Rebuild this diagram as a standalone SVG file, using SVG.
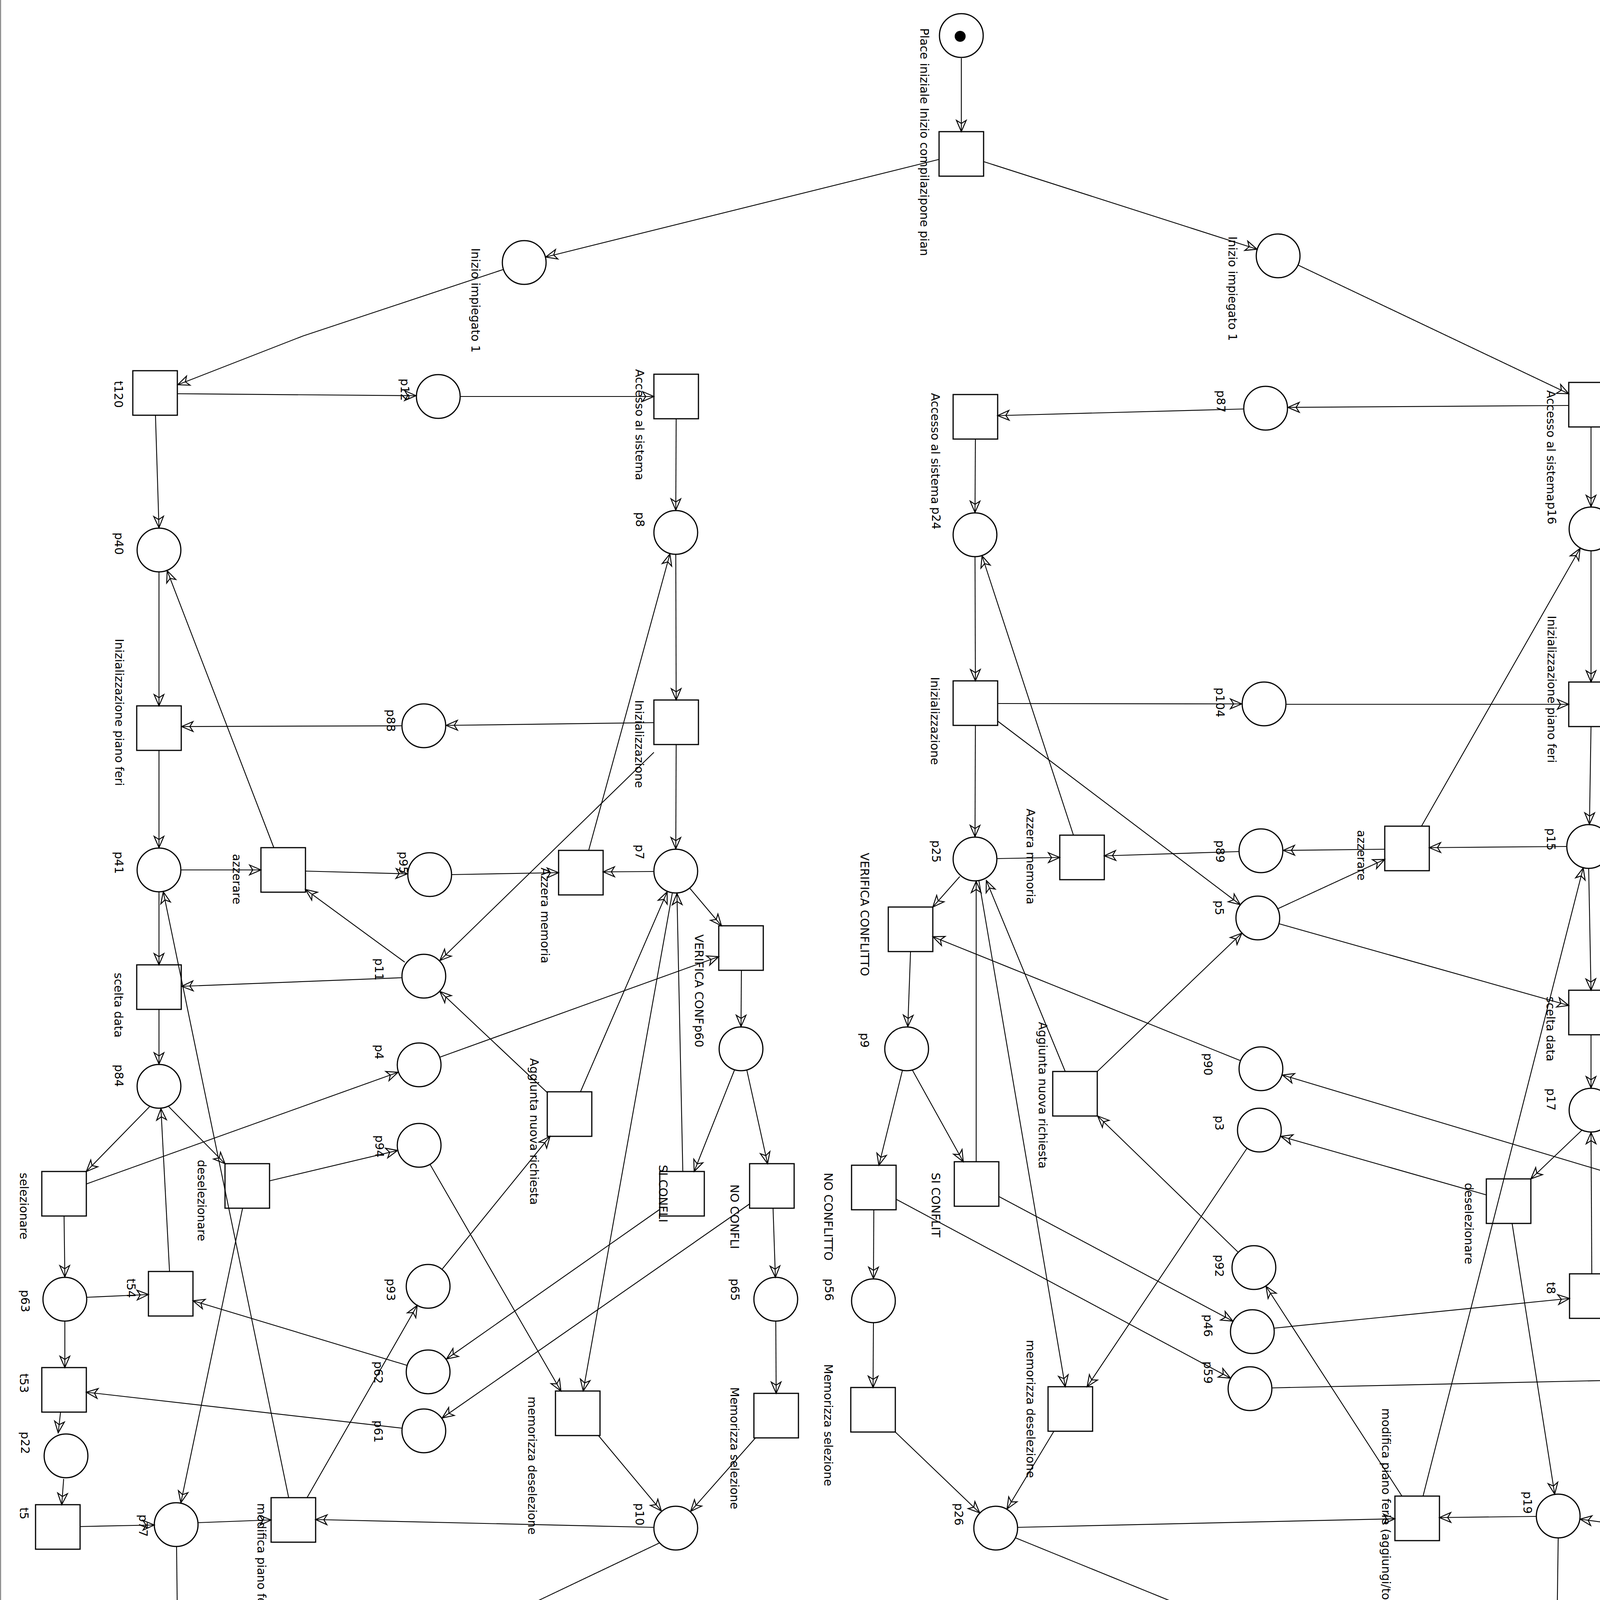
<svg xmlns="http://www.w3.org/2000/svg" width="4458" height="6934" viewBox="0 0 4458 6934">
<defs>
<style>
.pl{fill:#fff;stroke:#000;stroke-width:3}
.tr{fill:#fff;stroke:#000;stroke-width:3}
.lb{font-family:"DejaVu Sans","Liberation Sans",sans-serif;font-size:30px;fill:#000}
.a{fill:none;stroke:#000;stroke-width:2.2;marker-end:url(#arr)}
.a0{fill:none;stroke:#000;stroke-width:2.2}
</style>
<marker id="arr" markerUnits="userSpaceOnUse" markerWidth="60" markerHeight="60" refX="0" refY="0" orient="auto" overflow="visible" viewBox="-40 -30 60 60">
<path d="M-29,-12.5 L0,0 L-29,12.5 L-21,0 Z" fill="none" stroke="#000" stroke-width="2.4" stroke-linejoin="miter"/>
</marker>
</defs>
<rect width="4458" height="6934" fill="#fff"/>
<line x1="1.5" y1="0" x2="1.5" y2="6932" stroke="#666" stroke-width="2"/>
<line x1="0" y1="6931.5" x2="4458" y2="6931.5" stroke="#666" stroke-width="2"/>

<g id="nodes">
<g id="pinit"><circle class="pl" cx="2461" cy="91" r="56"/><circle cx="2458" cy="93" r="14" fill="#000"/><text class="lb" transform="translate(2356,72) rotate(90)">Place iniziale Inizio compilazipone pian</text></g>
<g id="t_start"><rect class="tr" x="2404" y="337" width="114" height="114"/></g>
<g id="pii_l"><circle class="pl" cx="1342" cy="672" r="56"/><text class="lb" transform="translate(1207,635) rotate(90)">Inizio impiegato 1</text></g>
<g id="pii_r"><circle class="pl" cx="3272" cy="655" r="56"/><text class="lb" transform="translate(3145,605) rotate(90)">Inizio impiegato 1</text></g>
<g id="t120"><rect class="tr" x="340" y="949" width="114" height="114"/><text class="lb" transform="translate(293,975) rotate(90)">t120</text></g>
<g id="p12"><circle class="pl" cx="1122" cy="1015" r="56"/><text class="lb" transform="translate(1026,969) rotate(90)">p12</text></g>
<g id="t_acc_l"><rect class="tr" x="1674" y="958" width="114" height="114"/><text class="lb" transform="translate(1627,945) rotate(90)">Accesso al sistema</text></g>
<g id="t_acc_m"><rect class="tr" x="2440" y="1010" width="114" height="114"/><text class="lb" transform="translate(2384,1006) rotate(90)">Accesso al sistema</text></g>
<g id="t_acc_r"><rect class="tr" x="4016" y="979" width="114" height="114"/><text class="lb" transform="translate(3960,999) rotate(90)">Accesso al sistema</text></g>
<g id="p87"><circle class="pl" cx="3240" cy="1045" r="56"/><text class="lb" transform="translate(3115,999) rotate(90)">p87</text></g>
<g id="p40"><circle class="pl" cx="407" cy="1408" r="56"/><text class="lb" transform="translate(294,1363) rotate(90)">p40</text></g>
<g id="p8"><circle class="pl" cx="1730" cy="1363" r="56"/><text class="lb" transform="translate(1628,1311) rotate(90)">p8</text></g>
<g id="p24"><circle class="pl" cx="2496" cy="1369" r="56"/><text class="lb" transform="translate(2386,1298) rotate(90)">p24</text></g>
<g id="p16"><circle class="pl" cx="4073" cy="1354" r="56"/><text class="lb" transform="translate(3962,1285) rotate(90)">p16</text></g>
<g id="t_ipf_l"><rect class="tr" x="350" y="1807" width="114" height="114"/><text class="lb" transform="translate(295,1635) rotate(90)">Inizializzazione piano feri</text></g>
<g id="p88"><circle class="pl" cx="1085" cy="1858" r="56"/><text class="lb" transform="translate(990,1816) rotate(90)">p88</text></g>
<g id="t_init_l"><rect class="tr" x="1674" y="1792" width="114" height="114"/><text class="lb" transform="translate(1626,1792) rotate(90)">Inizializzazione</text></g>
<g id="t_init_m"><rect class="tr" x="2440" y="1743" width="114" height="114"/><text class="lb" transform="translate(2383,1733) rotate(90)">Inizializzazione</text></g>
<g id="p104"><circle class="pl" cx="3236" cy="1802" r="56"/><text class="lb" transform="translate(3113,1760) rotate(90)">p104</text></g>
<g id="t_ipf_r"><rect class="tr" x="4016" y="1746" width="114" height="114"/><text class="lb" transform="translate(3962,1576) rotate(90)">Inizializzazione piano feri</text></g>
<g id="p41"><circle class="pl" cx="407" cy="2227" r="56"/><text class="lb" transform="translate(294,2180) rotate(90)">p41</text></g>
<g id="t_azz_l"><rect class="tr" x="668" y="2170" width="114" height="114"/><text class="lb" transform="translate(596,2186) rotate(90)">azzerare</text></g>
<g id="p95"><circle class="pl" cx="1100" cy="2239" r="56"/><text class="lb" transform="translate(1022,2180) rotate(90)">p95</text></g>
<g id="t_azm_l"><rect class="tr" x="1430" y="2177" width="114" height="114"/><text class="lb" transform="translate(1385,2221) rotate(90)">Azzera memoria</text></g>
<g id="p7"><circle class="pl" cx="1730" cy="2230" r="56"/><text class="lb" transform="translate(1627,2162) rotate(90)">p7</text></g>
<g id="p25"><circle class="pl" cx="2496" cy="2199" r="56"/><text class="lb" transform="translate(2386,2151) rotate(90)">p25</text></g>
<g id="t_azm_m"><rect class="tr" x="2713" y="2138" width="114" height="114"/><text class="lb" transform="translate(2628,2070) rotate(90)">Azzera memoria</text></g>
<g id="p89"><circle class="pl" cx="3228" cy="2178" r="56"/><text class="lb" transform="translate(3113,2151) rotate(90)">p89</text></g>
<g id="t_azz_r"><rect class="tr" x="3545" y="2115" width="114" height="114"/><text class="lb" transform="translate(3475,2125) rotate(90)">azzerare</text></g>
<g id="p15"><circle class="pl" cx="4067" cy="2167" r="56"/><text class="lb" transform="translate(3960,2120) rotate(90)">p15</text></g>
<g id="p5"><circle class="pl" cx="3220" cy="2350" r="56"/><text class="lb" transform="translate(3111,2305) rotate(90)">p5</text></g>
<g id="t_vc_l"><rect class="tr" x="1840" y="2370" width="114" height="114"/><text class="lb" transform="translate(1779,2392) rotate(90)">VERIFICA CONF</text></g>
<g id="t_vc_m"><rect class="tr" x="2274" y="2322" width="114" height="114"/><text class="lb" transform="translate(2203,2183) rotate(90)">VERIFICA CONFLITTO</text></g>
<g id="p11"><circle class="pl" cx="1085" cy="2499" r="56"/><text class="lb" transform="translate(960,2453) rotate(90)">p11</text></g>
<g id="t_scelta_l"><rect class="tr" x="350" y="2470" width="114" height="114"/><text class="lb" transform="translate(293,2490) rotate(90)">scelta data</text></g>
<g id="t_scelta_r"><rect class="tr" x="4016" y="2535" width="114" height="114"/><text class="lb" transform="translate(3959,2551) rotate(90)">scelta data</text></g>
<g id="p60"><circle class="pl" cx="1897" cy="2685" r="56"/><text class="lb" transform="translate(1779,2624) rotate(90)">p60</text></g>
<g id="p9"><circle class="pl" cx="2321" cy="2685" r="56"/><text class="lb" transform="translate(2203,2644) rotate(90)">p9</text></g>
<g id="p90"><circle class="pl" cx="3228" cy="2736" r="56"/><text class="lb" transform="translate(3082,2696) rotate(90)">p90</text></g>
<g id="p4"><circle class="pl" cx="1073" cy="2726" r="56"/><text class="lb" transform="translate(960,2674) rotate(90)">p4</text></g>
<g id="p84"><circle class="pl" cx="407" cy="2781" r="56"/><text class="lb" transform="translate(294,2725) rotate(90)">p84</text></g>
<g id="p17"><circle class="pl" cx="4073" cy="2842" r="56"/><text class="lb" transform="translate(3960,2786) rotate(90)">p17</text></g>
<g id="t_agg_l"><rect class="tr" x="1401" y="2795" width="114" height="114"/><text class="lb" transform="translate(1357,2709) rotate(90)">Aggiunta nuova richiesta</text></g>
<g id="t_agg_m"><rect class="tr" x="2695" y="2743" width="114" height="114"/><text class="lb" transform="translate(2659,2616) rotate(90)">Aggiunta nuova richiesta</text></g>
<g id="p3"><circle class="pl" cx="3224" cy="2893" r="56"/><text class="lb" transform="translate(3111,2856) rotate(90)">p3</text></g>
<g id="p94"><circle class="pl" cx="1073" cy="2932" r="56"/><text class="lb" transform="translate(961,2906) rotate(90)">p94</text></g>
<g id="t_sel_l"><rect class="tr" x="107" y="2999" width="114" height="114"/><text class="lb" transform="translate(51,3002) rotate(90)">selezionare</text></g>
<g id="t_desel_l"><rect class="tr" x="576" y="2979" width="114" height="114"/><text class="lb" transform="translate(506,2969) rotate(90)">deselezionare</text></g>
<g id="t_si_l"><rect class="tr" x="1689" y="2999" width="114" height="114"/><text class="lb" transform="translate(1687,2982) rotate(90)">SI CONFLI</text></g>
<g id="t_no_l"><rect class="tr" x="1919" y="2979" width="114" height="114"/><text class="lb" transform="translate(1870,3032) rotate(90)">NO CONFLI</text></g>
<g id="t_no_m"><rect class="tr" x="2180" y="2983" width="114" height="114"/><text class="lb" transform="translate(2110,3002) rotate(90)">NO CONFLITTO</text></g>
<g id="t_si_m"><rect class="tr" x="2443" y="2974" width="114" height="114"/><text class="lb" transform="translate(2385,3002) rotate(90)">SI CONFLIT</text></g>
<g id="t_desel_r"><rect class="tr" x="3805" y="3018" width="114" height="114"/><text class="lb" transform="translate(3750,3028) rotate(90)">deselezionare</text></g>
<g id="t_sel_r"><rect class="tr" x="4300" y="3018" width="114" height="114"/><text class="lb" transform="translate(4234,3031) rotate(90)">selezionare</text></g>
<g id="p92"><circle class="pl" cx="3210" cy="3245" r="56"/><text class="lb" transform="translate(3111,3212) rotate(90)">p92</text></g>
<g id="p63"><circle class="pl" cx="166" cy="3326" r="56"/><text class="lb" transform="translate(54,3302) rotate(90)">p63</text></g>
<g id="t54"><rect class="tr" x="380" y="3255" width="114" height="114"/><text class="lb" transform="translate(325,3273) rotate(90)">t54</text></g>
<g id="p93"><circle class="pl" cx="1096" cy="3293" r="56"/><text class="lb" transform="translate(990,3273) rotate(90)">p93</text></g>
<g id="p65"><circle class="pl" cx="1986" cy="3326" r="56"/><text class="lb" transform="translate(1871,3273) rotate(90)">p65</text></g>
<g id="p56"><circle class="pl" cx="2236" cy="3330" r="56"/><text class="lb" transform="translate(2112,3273) rotate(90)">p56</text></g>
<g id="t8"><rect class="tr" x="4018" y="3261" width="114" height="114"/><text class="lb" transform="translate(3960,3282) rotate(90)">t8</text></g>
<g id="p66"><circle class="pl" cx="4366" cy="3326" r="56"/><text class="lb" transform="translate(4261,3273) rotate(90)">p66</text></g>
<g id="p46"><circle class="pl" cx="3206" cy="3409" r="56"/><text class="lb" transform="translate(3082,3365) rotate(90)">p46</text></g>
<g id="p62"><circle class="pl" cx="1096" cy="3512" r="56"/><text class="lb" transform="translate(958,3485) rotate(90)">p62</text></g>
<g id="p59"><circle class="pl" cx="3200" cy="3555" r="56"/><text class="lb" transform="translate(3082,3485) rotate(90)">p59</text></g>
<g id="t53"><rect class="tr" x="107" y="3501" width="114" height="114"/><text class="lb" transform="translate(51,3516) rotate(90)">t53</text></g>
<g id="t7"><rect class="tr" x="4290" y="3473" width="114" height="114"/><text class="lb" transform="translate(4232,3496) rotate(90)">t7</text></g>
<g id="t_memdesel_l"><rect class="tr" x="1422" y="3561" width="114" height="114"/><text class="lb" transform="translate(1352,3575) rotate(90)">memorizza deselezione</text></g>
<g id="t_memsel_l"><rect class="tr" x="1930" y="3567" width="114" height="114"/><text class="lb" transform="translate(1870,3551) rotate(90)">Memorizza selezione</text></g>
<g id="t_memsel_m"><rect class="tr" x="2178" y="3552" width="114" height="114"/><text class="lb" transform="translate(2110,3492) rotate(90)">Memorizza selezione</text></g>
<g id="t_memdesel_m"><rect class="tr" x="2683" y="3550" width="114" height="114"/><text class="lb" transform="translate(2628,3430) rotate(90)">memorizza deselezione</text></g>
<g id="p61"><circle class="pl" cx="1085" cy="3663" r="56"/><text class="lb" transform="translate(958,3636) rotate(90)">p61</text></g>
<g id="p22"><circle class="pl" cx="169" cy="3727" r="56"/><text class="lb" transform="translate(54,3665) rotate(90)">p22</text></g>
<g id="p21"><circle class="pl" cx="4366" cy="3720" r="56"/><text class="lb" transform="translate(4261,3665) rotate(90)">p21</text></g>
<g id="t_mod_l"><rect class="tr" x="694" y="3834" width="114" height="114"/><text class="lb" transform="translate(659,3848) rotate(90)">modifica piano ferie (aggiungi/togli dat</text></g>
<g id="t_mod_r"><rect class="tr" x="3571" y="3830" width="114" height="114"/><text class="lb" transform="translate(3538,3605) rotate(90)">modifica piano ferie (aggiungi/togli dat</text></g>
<g id="p19"><circle class="pl" cx="3989" cy="3881" r="56"/><text class="lb" transform="translate(3900,3818) rotate(90)">p19</text></g>
<g id="p77"><circle class="pl" cx="451" cy="3903" r="56"/><text class="lb" transform="translate(356,3877) rotate(90)">p77</text></g>
<g id="p10"><circle class="pl" cx="1730" cy="3912" r="56"/><text class="lb" transform="translate(1627,3848) rotate(90)">p10</text></g>
<g id="p26"><circle class="pl" cx="2549" cy="3912" r="56"/><text class="lb" transform="translate(2444,3848) rotate(90)">p26</text></g>
<g id="t5"><rect class="tr" x="91" y="3852" width="114" height="114"/><text class="lb" transform="translate(51,3859) rotate(90)">t5</text></g>
<g id="t1"><rect class="tr" x="4310" y="3876" width="114" height="114"/><text class="lb" transform="translate(4264,3890) rotate(90)">t1</text></g>
<g id="t_invia_l"><rect class="tr" x="401" y="4481" width="114" height="114"/><text class="lb" transform="translate(357,4487) rotate(90)">invia piano ferie</text></g>
<g id="t_invia_r"><rect class="tr" x="3921" y="4445" width="114" height="114"/><text class="lb" transform="translate(3875,4457) rotate(90)">invia piano ferie</text></g>
<g id="p2"><circle class="pl" cx="1301" cy="4538" r="56"/><text class="lb" transform="translate(1203,4494) rotate(90)">p2</text></g>
<g id="p6"><circle class="pl" cx="3274" cy="4478" r="56"/><text class="lb" transform="translate(3173,4431) rotate(90)">p6</text></g>
<g id="t_ricez"><rect class="tr" x="2352" y="4470" width="114" height="114"/><text class="lb" transform="translate(2293,4461) rotate(90)">ricezione piani ferie</text></g>
<g id="p28"><circle class="pl" cx="2405" cy="4824" r="56"/><text class="lb" transform="translate(2293,4760) rotate(90)">p28</text></g>
<g id="gw_l"><circle class="pl" cx="458" cy="4872" r="56"/><text class="lb" transform="translate(353,4824) rotate(90)">gateway</text></g>
<g id="gw_r"><circle class="pl" cx="3979" cy="4887" r="56"/><text class="lb" transform="translate(3870,4853) rotate(90)">gateway</text></g>
<g id="t_pfa_l"><rect class="tr" x="356" y="5194" width="114" height="114"/><text class="lb" transform="translate(295,5211) rotate(90)">piano ferie approvato</text></g>
<g id="p14"><circle class="pl" cx="1305" cy="5266" r="56"/><text class="lb" transform="translate(1202,5211) rotate(90)">p14</text></g>
<g id="t_appr"><rect class="tr" x="2340" y="5210" width="114" height="114"/><text class="lb" transform="translate(2293,5218) rotate(90)">Approvazione piano ferie</text></g>
<g id="p13"><circle class="pl" cx="3307" cy="5267" r="56"/><text class="lb" transform="translate(3202,5211) rotate(90)">p13</text></g>
<g id="t_pfa_r"><rect class="tr" x="3892" y="5210" width="114" height="114"/><text class="lb" transform="translate(3840,5211) rotate(90)">piano ferie approvato</text></g>
<g id="p30"><circle class="pl" cx="2397" cy="5600" r="56"/><text class="lb" transform="translate(2293,5538) rotate(90)">p30</text></g>
<g id="pf_l"><circle class="pl" cx="421" cy="5721" r="56"/><text class="lb" transform="translate(324,5700) rotate(90)">place finale</text></g>
<g id="pf_r"><circle class="pl" cx="3949" cy="5631" r="56"/><text class="lb" transform="translate(3840,5579) rotate(90)">place finale</text></g>
<g id="t_salva"><rect class="tr" x="2340" y="5847" width="114" height="114"/><text class="lb" transform="translate(2293,5859) rotate(90)">Salva piano ferie</text></g>
<g id="pf_m"><circle class="pl" cx="2397" cy="6205" r="56"/><text class="lb" transform="translate(2291,6156) rotate(90)">Place finale</text></g>
<g id="t125"><rect class="tr" x="2340" y="6468" width="114" height="114"/><text class="lb" transform="translate(2291,6488) rotate(90)">t125</text></g>
<g id="p102"><circle class="pl" cx="2397" cy="6841" r="56"/><text class="lb" transform="translate(2293,6790) rotate(90)">p102</text></g>
</g>

<g id="connectors">
<path class="a" d="M2461,149 L2461,337"/>
<path class="a" d="M2404,408 L1397,658"/>
<path class="a" d="M2519,414 L3218,638"/>
<path class="a" d="M3324,679 L4016,1008"/>
<path class="a" d="M4016,1038 L3297,1043"/>
<path class="a" d="M3183,1047 L2554,1064"/>
<path class="a" d="M1288,690 L776,860 L455,985"/>
<path class="a" d="M455,1008 L1065,1013"/>
<path class="a" d="M1179,1015 L1674,1015"/>
<path class="a" d="M398,1064 L407,1351"/>
<path class="a" d="M1731,1073 L1730,1306"/>
<path class="a" d="M2497,1124 L2496,1312"/>
<path class="a" d="M4073,1093 L4073,1297"/>
<path class="a" d="M407,1465 L407,1807"/>
<path class="a" d="M1730,1420 L1731,1792"/>
<path class="a" d="M1674,1850 L1142,1857"/>
<path class="a" d="M1028,1858 L465,1860"/>
<path class="a" d="M407,1921 L407,2170"/>
<path class="a" d="M1731,1906 L1730,2173"/>
<path class="a" d="M1674,1926 L1126,2459"/>
<path class="a" d="M464,2227 L668,2227"/>
<path class="a" d="M701,2170 L428,1461"/>
<path class="a" d="M782,2230 L1043,2237"/>
<path class="a" d="M1157,2239 L1430,2234"/>
<path class="a" d="M1673,2231 L1544,2232"/>
<path class="a" d="M1507,2177 L1715,1418"/>
<path class="a" d="M1036,2463 L782,2277"/>
<path class="a" d="M1028,2503 L465,2525"/>
<path class="a" d="M407,2284 L407,2470"/>
<path class="a" d="M739,3834 L418,2283"/>
<path class="a" d="M407,2584 L407,2724"/>
<path class="a" d="M383,2833 L221,2999"/>
<path class="a" d="M432,2833 L576,2979"/>
<path class="a" d="M434,3255 L412,2838"/>
<path class="a" d="M221,3031 L1019,2745"/>
<path class="a" d="M1127,2706 L1840,2449"/>
<path class="a" d="M1766,2274 L1847,2370"/>
<path class="a" d="M1898,2484 L1897,2628"/>
<path class="a" d="M1880,2740 L1777,2999"/>
<path class="a" d="M1912,2740 L1965,2979"/>
<path class="a" d="M1486,2795 L1708,2283"/>
<path class="a" d="M1748,2999 L1733,2287"/>
<path class="a" d="M1721,2287 L1493,3561"/>
<path class="a" d="M1401,2797 L1126,2538"/>
<path class="a" d="M1132,3249 L1408,2909"/>
<path class="a" d="M690,3023 L1018,2945"/>
<path class="a" d="M1101,2981 L1436,3561"/>
<path class="a" d="M164,3113 L166,3269"/>
<path class="a" d="M223,3321 L380,3314"/>
<path class="a" d="M1041,3495 L494,3330"/>
<path class="a" d="M1689,3096 L1143,3479"/>
<path class="a" d="M1919,3082 L1132,3630"/>
<path class="a" d="M1028,3656 L221,3564"/>
<path class="a" d="M786,3834 L1068,3342"/>
<path class="a" d="M621,3093 L463,3847"/>
<path class="a" d="M166,3383 L166,3501"/>
<path class="a" d="M155,3615 L149,3668"/>
<path class="a" d="M163,3786 L158,3852"/>
<path class="a" d="M205,3908 L395,3904"/>
<path class="a" d="M508,3898 L694,3891"/>
<path class="a" d="M1673,3910 L808,3890"/>
<path class="a" d="M1532,3675 L1693,3868"/>
<path class="a" d="M1934,3681 L1768,3869"/>
<path class="a" d="M1979,3093 L1985,3270"/>
<path class="a" d="M1986,3383 L1987,3567"/>
<path class="a" d="M1688,3950 L515,4508"/>
<path class="a" d="M452,3960 L458,4481"/>
<path class="a" d="M515,4538 L1245,4538"/>
<path class="a0" d="M1358,4538 L2352,4534"/>
<path class="a" d="M2292,3666 L2508,3873"/>
<path class="a" d="M2698,3664 L2578,3863"/>
<path class="a" d="M2606,3910 L3571,3888"/>
<path class="a" d="M2600,3937 L3921,4475"/>
<path class="a" d="M3932,3882 L3685,3885"/>
<path class="a" d="M4310,3925 L4045,3889"/>
<path class="a" d="M3989,3938 L3982,4445"/>
<path class="a" d="M3871,3132 L3980,3825"/>
<path class="a" d="M3643,3830 L4053,2222"/>
<path class="a" d="M3589,3830 L3241,3293"/>
<path class="a" d="M3192,2940 L2783,3550"/>
<path class="a" d="M2506,2255 L2727,3550"/>
<path class="a" d="M2727,2743 L2525,2254"/>
<path class="a" d="M2499,2974 L2499,2256"/>
<path class="a" d="M2457,2244 L2388,2322"/>
<path class="a" d="M2553,2198 L2713,2195"/>
<path class="a" d="M3171,2180 L2827,2191"/>
<path class="a" d="M2748,2138 L2514,1423"/>
<path class="a" d="M2497,1857 L2496,2142"/>
<path class="a" d="M2496,1426 L2497,1743"/>
<path class="a" d="M2554,1801 L3179,1802"/>
<path class="a" d="M3293,1803 L4016,1803"/>
<path class="a" d="M4073,1411 L4073,1746"/>
<path class="a" d="M4073,1860 L4069,2110"/>
<path class="a" d="M4010,2167 L3659,2170"/>
<path class="a" d="M3639,2115 L4045,1404"/>
<path class="a" d="M3545,2174 L3285,2177"/>
<path class="a" d="M2554,1846 L3175,2316"/>
<path class="a" d="M3272,2326 L3545,2200"/>
<path class="a" d="M2809,2743 L3179,2389"/>
<path class="a" d="M3275,2365 L4016,2574"/>
<path class="a" d="M4067,2224 L4073,2535"/>
<path class="a" d="M4073,2649 L4073,2785"/>
<path class="a" d="M4049,2894 L3919,3018"/>
<path class="a" d="M4100,2892 L4300,3019"/>
<path class="a" d="M3805,3059 L3279,2909"/>
<path class="a" d="M4300,3057 L3283,2752"/>
<path class="a" d="M3175,2715 L2388,2398"/>
<path class="a" d="M2331,2436 L2324,2628"/>
<path class="a" d="M2310,2741 L2250,2983"/>
<path class="a" d="M2336,2740 L2466,2974"/>
<path class="a" d="M2237,3097 L2236,3273"/>
<path class="a" d="M2236,3387 L2235,3552"/>
<path class="a" d="M2294,3070 L3150,3528"/>
<path class="a" d="M2557,3063 L3156,3382"/>
<path class="a" d="M3257,3553 L4290,3530"/>
<path class="a" d="M3262,3400 L4018,3324"/>
<path class="a" d="M4309,3328 L4132,3318"/>
<path class="a" d="M4359,3132 L4366,3269"/>
<path class="a" d="M4075,3261 L4073,2899"/>
<path class="a" d="M4366,3383 L4354,3473"/>
<path class="a" d="M4350,3587 L4361,3664"/>
<path class="a" d="M4366,3777 L4366,3876"/>
<path class="a" d="M3169,3205 L2810,2857"/>
<path class="a" d="M3921,4500 L3331,4479"/>
<path class="a" d="M3217,4481 L2460,4509"/>
<path class="a" d="M2409,4584 L2406,4767"/>
<path class="a" d="M2405,4881 L2401,5210"/>
<path class="a" d="M2340,5267 L1362,5266"/>
<path class="a" d="M2454,5267 L3250,5267"/>
<path class="a" d="M3364,5267 L3892,5267"/>
<path class="a" d="M2397,5324 L2397,5543"/>
<path class="a" d="M2397,5657 L2397,5847"/>
<path class="a" d="M2397,5961 L2397,6148"/>
<path class="a" d="M2397,6262 L2397,6468"/>
<path class="a" d="M2397,6582 L2397,6784"/>
<path class="a" d="M458,4595 L458,4815"/>
<path class="a" d="M452,4929 L421,5194"/>
<path class="a" d="M1248,5266 L470,5251"/>
<path class="a" d="M414,5308 L421,5664"/>
<path class="a" d="M474,5742 L2340,6494"/>
<path class="a" d="M3978,4559 L3979,4830"/>
<path class="a" d="M3973,4944 L3953,5210"/>
<path class="a" d="M3949,5324 L3949,5574"/>
<path class="a" d="M3900,5659 L2454,6488"/>
</g>
</svg>
